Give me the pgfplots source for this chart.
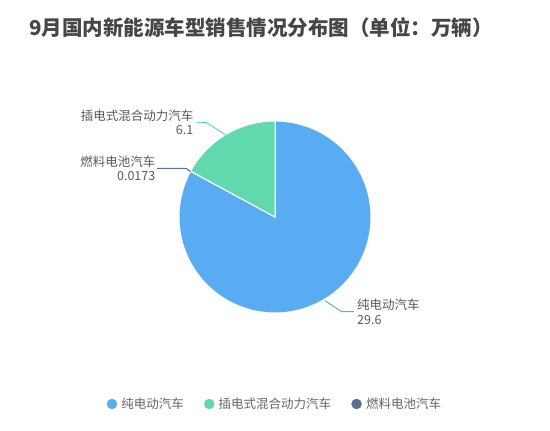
\documentclass[border=0pt]{standalone}
\usepackage{pgfplots}
\usepackage{pgfplotstable}
\pgfplotsset{compat=1.18}
\usepackage{fontspec}
\setmainfont{Noto Sans CJK SC}
\definecolor{cBlue}{HTML}{5AACF2}
\definecolor{cGreen}{HTML}{62D9AD}
\definecolor{cDark}{HTML}{5B6E96}
\definecolor{titlec}{HTML}{464646}
\definecolor{labc}{HTML}{595959}
\definecolor{legc}{HTML}{666666}
\pgfplotstableread{
id value
1 29.6
2 6.1
3 0.0173
}\piedata
\begin{document}
\begin{tikzpicture}
\useasboundingbox (0,0) rectangle (550pt,431pt);
\pgfplotstablegetelem{0}{value}\of\piedata \let\va\pgfplotsretval
\pgfplotstablegetelem{1}{value}\of\piedata \let\vb\pgfplotsretval
\pgfplotstablegetelem{2}{value}\of\piedata \let\vc\pgfplotsretval
\pgfmathsetmacro\tot{\va+\vb+\vc}
\pgfmathsetmacro\aA{90}
\pgfmathsetmacro\aB{90-360*\va/\tot}
\pgfmathsetmacro\aC{\aB-360*\vc/\tot}
\pgfmathsetmacro\aD{-270}
\begin{axis}[
  scale only axis, width=550pt, height=431pt,
  xmin=0, xmax=550, ymin=0, ymax=431,
  axis lines=none, clip=false,
  legend columns=3,
  legend style={draw=none, fill=none, at={(axis cs:275,27)}, anchor=center,
    font=\fontsize{12.5}{14}\selectfont, text=legc,
    /tikz/every even column/.append style={column sep=18.3pt},
    /tikz/every odd column/.append style={column sep=2.5pt}},
]
\addlegendimage{only marks, mark=*, mark size=5pt, color=cBlue}
\addlegendimage{only marks, mark=*, mark size=5pt, color=cGreen}
\addlegendimage{only marks, mark=*, mark size=5pt, color=cDark}
\legend{纯电动汽车,插电式混合动力汽车,燃料电池汽车}

\addplot[fill=cBlue, draw=white, line width=1pt, domain=\aB:\aA, samples=160, variable=\t]
  ({275+96*cos(\t)},{214+96*sin(\t)}) -- (axis cs:275,214) -- cycle;
\addplot[fill=cDark, draw=white, line width=0.3pt, domain=\aC:\aB, samples=2, variable=\t]
  ({275+96*cos(\t)},{214+96*sin(\t)}) -- (axis cs:275,214) -- cycle;
\addplot[fill=cGreen, draw=white, line width=1pt, domain=\aD:\aC, samples=60, variable=\t]
  ({275+96*cos(\t)},{214+96*sin(\t)}) -- (axis cs:275,214) -- cycle;

% leader lines
\draw[cGreen, line width=1pt] (axis cs:225.7,296) -- (axis cs:206.7,308.3) -- (axis cs:196.5,308.3);
\draw[cDark, line width=1pt] (axis cs:190.7,259.3) -- (axis cs:186,262.7) -- (axis cs:157,262.7);
\draw[cBlue, line width=1pt] (axis cs:325,130.3) -- (axis cs:341.7,119.3) -- (axis cs:354,119.3);

% labels
\node[anchor=east, align=right, inner sep=0pt, text=labc, font=\fontsize{12.5}{14.5}\selectfont] at (axis cs:193.5,308.5) {插电式混合动力汽车\\6.1};
\node[anchor=east, align=right, inner sep=0pt, text=labc, font=\fontsize{12.5}{14}\selectfont] at (axis cs:155.5,262.7) {燃料电池汽车\\0.0173};
\node[anchor=west, align=left, inner sep=0pt, text=labc, font=\fontsize{12.5}{14.5}\selectfont] at (axis cs:357,119) {纯电动汽车\\29.6};

% title
\node[anchor=west, inner sep=0pt, text=titlec, font=\fontsize{20.5}{23}\selectfont\bfseries] at (axis cs:29,403) {9月国内新能源车型销售情况分布图（单位：万辆）};
\end{axis}
\end{tikzpicture}
\end{document}
